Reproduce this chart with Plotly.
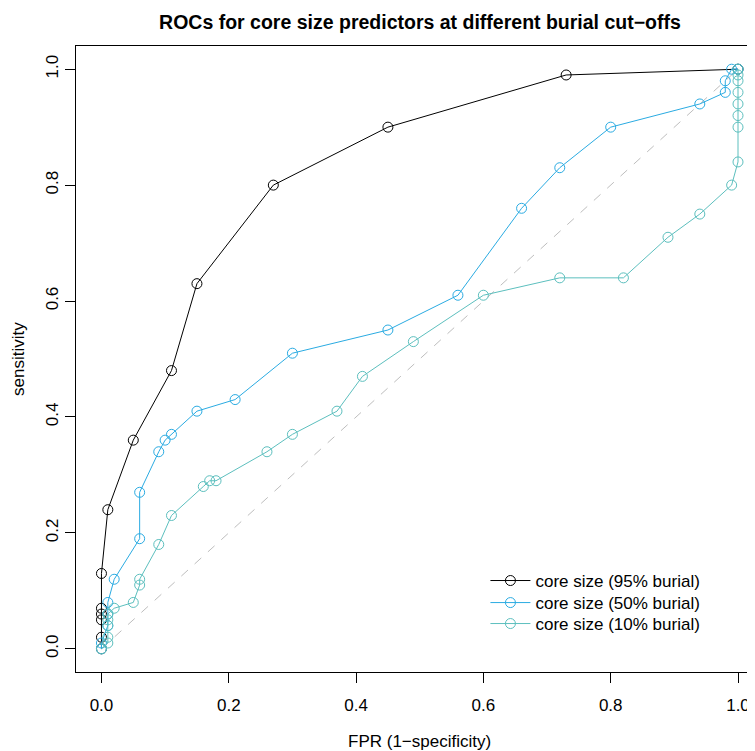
import plotly.graph_objects as go

# 95% burial
fpr95 = [0, 0, 0, 0, 0, 0, 0.01, 0.05, 0.11, 0.15, 0.27, 0.45, 0.73, 1.0]
tpr95 = [0, 0.02, 0.05, 0.06, 0.07, 0.13, 0.24, 0.36, 0.48, 0.63, 0.80, 0.90, 0.99, 1.0]
# 50% burial
fpr50 = [0, 0, 0.01, 0.01, 0.01, 0.02, 0.06, 0.06, 0.09, 0.10, 0.11, 0.15, 0.21, 0.30,
         0.45, 0.56, 0.66, 0.72, 0.80, 0.94, 0.98, 0.98, 0.99, 1.0]
tpr50 = [0, 0.01, 0.04, 0.06, 0.08, 0.12, 0.19, 0.27, 0.34, 0.36, 0.37, 0.41, 0.43, 0.51,
         0.55, 0.61, 0.76, 0.83, 0.90, 0.94, 0.96, 0.98, 1.0, 1.0]
# 10% burial
fpr10 = [0, 0.01, 0.01, 0.01, 0.01, 0.01, 0.02, 0.05, 0.06, 0.06, 0.09, 0.11, 0.16, 0.17,
         0.18, 0.26, 0.30, 0.37, 0.41, 0.49, 0.60, 0.72, 0.82, 0.89, 0.94, 0.99, 1.0,
         1.0, 1.0, 1.0, 1.0, 1.0, 1.0, 1.0]
tpr10 = [0, 0.01, 0.02, 0.04, 0.05, 0.06, 0.07, 0.08, 0.11, 0.12, 0.18, 0.23, 0.28, 0.29,
         0.29, 0.34, 0.37, 0.41, 0.47, 0.53, 0.61, 0.64, 0.64, 0.71, 0.75, 0.80, 0.84,
         0.90, 0.92, 0.94, 0.96, 0.98, 0.99, 1.0]

names = ["core size (95% burial)", "core size (50% burial)", "core size (10% burial)"]
colors = ["#000000", "#2AABE2", "#5CBFBE"]
ticks = [0.0, 0.2, 0.4, 0.6, 0.8, 1.0]
tick_text = ["0.0", "0.2", "0.4", "0.6", "0.8", "1.0"]

FONT = "Liberation Sans, Arial, Helvetica, sans-serif"
FS = 17
W, H = 747, 743   # page body has an 8px margin
L, T, B = 68, 38, 79
legend_keys = ["legend", "legend2", "legend3"]
legend_y = [0.1454, 0.1102, 0.0767]

fig = go.Figure()
fig.add_trace(go.Scatter(x=[0, 1], y=[0, 1], mode="lines",
                         line=dict(color="#BEBEBE", width=1, dash="dash"),
                         showlegend=False, hoverinfo="skip"))
for fx, ty, nm, col, lg in zip([fpr95, fpr50, fpr10], [tpr95, tpr50, tpr10],
                               names, colors, legend_keys):
    fig.add_trace(go.Scatter(x=fx, y=ty, mode="lines+markers", name=nm, legend=lg,
                             line=dict(color=col, width=1),
                             marker=dict(symbol="circle-open", size=10, color=col,
                                         line=dict(width=1, color=col))))

leg_common = dict(x=0.603, xanchor="left", yanchor="middle",
                  bgcolor="rgba(0,0,0,0)", font=dict(size=FS, family=FONT),
                  itemwidth=40)

fig.update_layout(
    width=W, height=H,
    margin=dict(l=L, r=0, t=T, b=B, autoexpand=False),
    plot_bgcolor="white", paper_bgcolor="white",
    font=dict(family=FONT, size=FS, color="black"),
    title=dict(text="<b>ROCs for core size predictors at different burial cut\u2212offs</b>",
               x=0.5066, xref="paper", xanchor="center",
               y=1 - 14 / H, yref="container", yanchor="middle",
               automargin=False, font=dict(size=19.5, family=FONT)),
    xaxis=dict(range=[-0.04, 1.0267], tickvals=ticks, ticktext=tick_text,
               showgrid=False, zeroline=False, showline=True, linecolor="black",
               linewidth=1, mirror=True, ticks="outside", ticklen=10,
               tickcolor="black", ticklabelstandoff=8, automargin=False,
               tickfont=dict(size=FS)),
    yaxis=dict(range=[-0.04, 1.04], tickvals=ticks, ticktext=tick_text,
               showgrid=False, zeroline=False, showline=True, linecolor="black",
               linewidth=1, mirror=False, ticks="outside", ticklen=10,
               tickcolor="black", tickangle=-90, ticklabelstandoff=0,
               automargin=False, tickfont=dict(size=FS)),
    legend=dict(y=legend_y[0], **leg_common),
    legend2=dict(y=legend_y[1], **leg_common),
    legend3=dict(y=legend_y[2], **leg_common),
    annotations=[
        dict(text="FPR (1\u2212specificity)", xref="paper", yref="paper",
             x=0.506, y=-(741 - 672) / 626, xanchor="center", yanchor="middle",
             showarrow=False, font=dict(size=FS, family=FONT)),
        dict(text="sensitivity", xref="paper", yref="paper",
             x=-(76 - 18) / 679, y=0.5, xanchor="center", yanchor="middle",
             textangle=-90, showarrow=False, font=dict(size=FS, family=FONT)),
    ],
)

fig.write_html("out.html")
